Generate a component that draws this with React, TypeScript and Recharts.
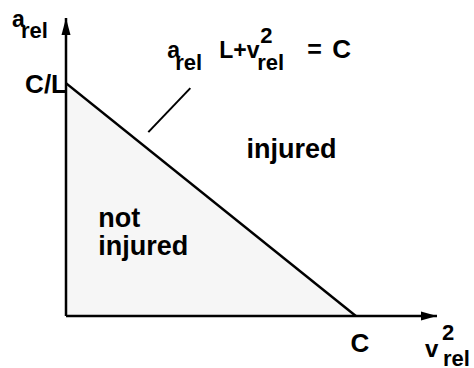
import React from 'react';
import {
  ComposedChart,
  Area,
  XAxis,
  YAxis,
  ReferenceLine,
  ReferenceDot,
} from 'recharts';

// threshold line a_rel * L + v_rel^2 = C, with C = 1 and C/L = 1 (normalised units)
const vSquared = [0, 1];
const aRel = [1, 0];
const xTicks = [1];
const yTicks = [1];
const xTickLabels = ['C'];
const yTickLabels = ['C/L'];
const AXIS_MAX = 1.28;

// leader from the equation down to the line
const leaderV = [0.284, 0.429];
const leaderA = [0.79, 0.979];

const data = vSquared.map((v, i) => ({ v, a: aRel[i] }));

const FONT = '"Liberation Sans", Arial, sans-serif';

const XTick = (props: any) => {
  const { x, y, payload } = props;
  const idx = xTicks.indexOf(payload.value);
  return (
    <text x={x + 4} y={y + 28} textAnchor="middle" fontFamily={FONT} fontSize={26} fontWeight="bold" fill="#000">
      {xTickLabels[idx]}
    </text>
  );
};

const YTick = (props: any) => {
  const { x, y, payload } = props;
  const idx = yTicks.indexOf(payload.value);
  return (
    <text x={x + 9} y={y + 10} textAnchor="end" fontFamily={FONT} fontSize={26} fontWeight="bold" fill="#000">
      {yTickLabels[idx]}
    </text>
  );
};

const txt = { fontFamily: FONT, fontWeight: 'bold' as const, fill: '#000' };

const UpArrow = ({ cx, cy }: any) => (
  <polygon points={`${cx},${cy} ${cx - 4.5},${cy + 17} ${cx + 4.5},${cy + 17}`} fill="#000" />
);

const RightArrow = ({ cx, cy }: any) => (
  <polygon points={`${cx},${cy} ${cx - 16},${cy - 4.5} ${cx - 16},${cy + 4.5}`} fill="#000" />
);

const YLabel = ({ cx, cy }: any) => (
  <g {...txt}>
    <text x={cx - 54} y={cy + 9} fontSize={23}>a</text>
    <text x={cx - 45} y={cy + 20} fontSize={22}>rel</text>
  </g>
);

const XLabel = ({ cx, cy }: any) => (
  <g {...txt}>
    <text x={cx - 12} y={cy + 41} fontSize={24}>v</text>
    <text x={cx + 5} y={cy + 24} fontSize={22}>2</text>
    <text x={cx + 6} y={cy + 50} fontSize={22}>rel</text>
  </g>
);

const Equation = ({ cx, cy }: any) => (
  <g {...txt}>
    <text x={cx - 1} y={cy} fontSize={23}>a</text>
    <text x={cx + 7} y={cy + 12} fontSize={22}>rel</text>
    <text x={cx + 51} y={cy} fontSize={23}>L+v</text>
    <text x={cx + 92} y={cy - 15} fontSize={22}>2</text>
    <text x={cx + 89} y={cy + 12} fontSize={22}>rel</text>
    <text x={cx + 139} y={cy} fontSize={25}>=</text>
    <text x={cx + 164} y={cy} fontSize={26}>C</text>
  </g>
);

const Injured = ({ cx, cy }: any) => (
  <text x={cx} y={cy} {...txt} fontSize={27}>injured</text>
);

const NotInjured = ({ cx, cy }: any) => (
  <g {...txt} fontSize={27}>
    <text x={cx} y={cy}>not</text>
    <text x={cx} y={cy + 28}>injured</text>
  </g>
);

export default function App() {
  return (
    <div style={{ position: 'absolute', left: 0, top: 0, width: 474, height: 368, background: '#fff' }}>
      <ComposedChart width={474} height={368} data={data} margin={{ top: 18, right: 37, bottom: 22, left: 6 }}>
        <XAxis
          type="number"
          dataKey="v"
          domain={[0, AXIS_MAX]}
          ticks={xTicks}
          tick={<XTick />}
          tickLine={false}
          axisLine={{ stroke: '#000', strokeWidth: 2.5 }}
          height={30}
          allowDataOverflow
        />
        <YAxis
          type="number"
          domain={[0, AXIS_MAX]}
          ticks={yTicks}
          tick={<YTick />}
          tickLine={false}
          axisLine={{ stroke: '#000', strokeWidth: 2.5 }}
          width={60}
          allowDataOverflow
        />
        <Area
          type="linear"
          dataKey="a"
          stroke="#000"
          strokeWidth={2.5}
          fill="#f6f6f6"
          fillOpacity={1}
          dot={false}
          activeDot={false}
          isAnimationActive={false}
        />
        <ReferenceLine
          segment={[{ x: leaderV[0], y: leaderA[0] }, { x: leaderV[1], y: leaderA[1] }]}
          stroke="#000"
          strokeWidth={2}
          ifOverflow="visible"
        />
        <ReferenceDot x={0} y={AXIS_MAX} ifOverflow="visible" shape={UpArrow} />
        <ReferenceDot x={AXIS_MAX} y={0} ifOverflow="visible" shape={RightArrow} />
        <ReferenceDot x={0} y={AXIS_MAX} ifOverflow="visible" shape={YLabel} />
        <ReferenceDot x={AXIS_MAX} y={0} ifOverflow="visible" shape={XLabel} />
        <ReferenceDot x={0.353} y={1.107} ifOverflow="visible" shape={Equation} />
        <ReferenceDot x={0.623} y={0.678} ifOverflow="visible" shape={Injured} />
        <ReferenceDot x={0.111} y={0.384} ifOverflow="visible" shape={NotInjured} />
      </ComposedChart>
    </div>
  );
}
